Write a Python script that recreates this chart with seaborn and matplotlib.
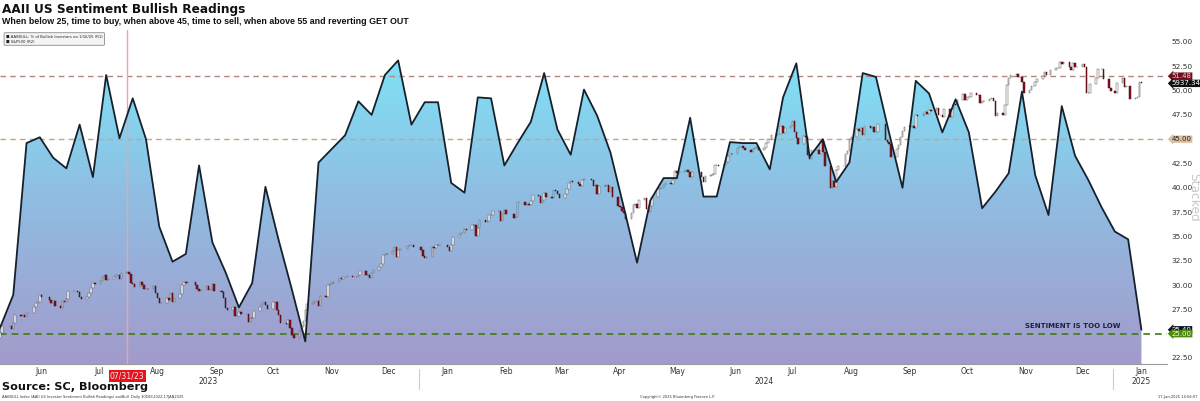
import numpy as np
import pandas as pd
import matplotlib
matplotlib.use("Agg")
import matplotlib.pyplot as plt
import matplotlib.dates as mdates
import matplotlib.transforms as mtransforms
from matplotlib.colors import LinearSegmentedColormap
from matplotlib.patches import PathPatch
import seaborn as sns

# AAII % bullish, weekly (Thursdays) from 2023-05-25 to 2025-01-16
aaii_start = "2023-05-25"
aaii_bull = [
    25.6, 29.0, 44.6, 45.2, 43.1, 42.0, 46.5, 41.1, 51.6, 45.1,
    49.2, 45.0, 36.0, 32.4, 33.2, 42.3, 34.4, 31.3, 27.7, 30.2,
    40.1, 34.6, 29.5, 24.2, 42.6, 44.0, 45.4, 48.9, 47.5, 51.6,
    53.1, 46.5, 48.8, 48.8, 40.5, 39.5, 49.3, 49.2, 42.3, 44.6,
    46.8, 51.8, 46.0, 43.4, 50.1, 47.4, 43.6, 38.0, 32.3, 38.7,
    41.0, 41.0, 47.2, 39.1, 39.1, 44.7, 44.6, 44.6, 41.9, 49.3,
    52.8, 43.2, 45.0, 40.6, 42.6, 51.8, 51.4, 45.6, 40.0, 51.0,
    49.7, 45.7, 49.1, 45.7, 37.9, 39.6, 41.5, 49.9, 41.3, 37.2,
    48.4, 43.3, 40.8, 38.0, 35.5, 34.7, 25.4,
]

# S&P 500 daily closes, one list per month
spx_prev_close = 4115.2
spx_close_by_month = {
    "2023-05": [4151, 4205, 4206, 4180],
    "2023-06": [4221, 4282, 4273, 4283, 4267, 4293, 4299, 4338, 4369, 4372, 4426,
                4410, 4389, 4365, 4381, 4348, 4328, 4378, 4376, 4396, 4450],
    "2023-07": [4455, 4446, 4411, 4399, 4409, 4439, 4472, 4510, 4505, 4522, 4555,
                4565, 4534, 4536, 4554, 4567, 4566, 4537, 4582, 4589],
    "2023-08": [4577, 4513, 4502, 4478, 4518, 4499, 4468, 4468, 4464, 4490, 4437,
                4404, 4370, 4370, 4400, 4388, 4436, 4376, 4406, 4433, 4497, 4514, 4508],
    "2023-09": [4516, 4497, 4465, 4451, 4457, 4487, 4462, 4467, 4505, 4450, 4453,
                4444, 4402, 4330, 4320, 4337, 4274, 4274, 4300, 4288],
    "2023-10": [4288, 4229, 4263, 4258, 4308, 4336, 4358, 4377, 4350, 4327, 4373,
                4373, 4315, 4278, 4224, 4217, 4248, 4186, 4137, 4117, 4166, 4194],
    "2023-11": [4237, 4318, 4358, 4365, 4378, 4383, 4347, 4415, 4411, 4496, 4502,
                4508, 4514, 4547, 4538, 4556, 4559, 4550, 4555, 4551, 4568],
    "2023-12": [4595, 4569, 4567, 4549, 4585, 4604, 4622, 4644, 4707, 4720, 4719,
                4741, 4768, 4699, 4746, 4755, 4775, 4781, 4783, 4770],
    "2024-01": [4743, 4705, 4689, 4697, 4764, 4757, 4783, 4780, 4784, 4766, 4739,
                4780, 4840, 4850, 4865, 4869, 4894, 4891, 4928, 4925, 4846],
    "2024-02": [4906, 4959, 4943, 4954, 4995, 4998, 5027, 5022, 4953, 5001, 5030,
                5006, 4976, 4982, 5087, 5089, 5070, 5078, 5070, 5096],
    "2024-03": [5137, 5131, 5079, 5105, 5157, 5124, 5117, 5175, 5165, 5150, 5117,
                5149, 5179, 5225, 5241, 5234, 5218, 5203, 5248, 5254],
    "2024-04": [5243, 5205, 5211, 5147, 5204, 5202, 5209, 5161, 5199, 5123, 5061,
                5051, 5022, 5011, 4967, 5010, 5070, 5072, 5048, 5100, 5116, 5036],
    "2024-05": [5018, 5064, 5128, 5181, 5187, 5188, 5214, 5223, 5221, 5247, 5308,
                5297, 5303, 5308, 5321, 5307, 5268, 5305, 5306, 5267, 5235, 5278],
    "2024-06": [5283, 5291, 5354, 5352, 5347, 5361, 5375, 5421, 5434, 5431, 5473,
                5487, 5473, 5464, 5448, 5469, 5478, 5482, 5460],
    "2024-07": [5475, 5509, 5537, 5567, 5572, 5577, 5633, 5585, 5615, 5631, 5667,
                5588, 5545, 5505, 5564, 5555, 5427, 5399, 5459, 5464, 5436, 5522],
    "2024-08": [5446, 5347, 5186, 5240, 5199, 5319, 5344, 5344, 5434, 5455, 5543,
                5554, 5608, 5597, 5620, 5571, 5635, 5617, 5626, 5592, 5592, 5648],
    "2024-09": [5529, 5520, 5503, 5408, 5471, 5496, 5554, 5596, 5626, 5634, 5634,
                5618, 5714, 5703, 5719, 5732, 5722, 5745, 5738, 5762],
    "2024-10": [5709, 5709, 5700, 5751, 5696, 5751, 5793, 5780, 5815, 5859, 5815,
                5843, 5841, 5865, 5853, 5851, 5797, 5809, 5808, 5823, 5833, 5814, 5705],
    "2024-11": [5729, 5712, 5782, 5929, 5973, 5996, 6001, 5984, 5985, 5949, 5871,
                5893, 5917, 5917, 5949, 5969, 5987, 6021, 5998, 6032],
    "2024-12": [6047, 6050, 6087, 6075, 6090, 6053, 6034, 6084, 6051, 6051, 6074,
                6051, 5872, 5867, 5931, 5975, 6040, 6037, 5970, 5907, 5882],
    "2025-01": [5869, 5942, 5975, 5909, 5918, 5827, 5836, 5842, 5950, 5937.34],
}
market_holidays = [
    "2023-05-29", "2023-06-19", "2023-07-04", "2023-09-04", "2023-11-23", "2023-12-25",
    "2024-01-01", "2024-01-15", "2024-02-19", "2024-03-29", "2024-05-27", "2024-06-19",
    "2024-07-04", "2024-09-02", "2024-11-28", "2024-12-25", "2025-01-01", "2025-01-09",
]

buy_level = 25.0
sell_level = 45.0
last_bull = 51.48
last_bull_low = 25.40
last_spx = 5937.34
marker_date = "2023-07-31"

# ---- data frames
aaii = pd.DataFrame({
    "date": pd.date_range(aaii_start, periods=len(aaii_bull), freq="7D"),
    "bull": aaii_bull,
})
spx_dates = pd.bdate_range("2023-05-25", "2025-01-16", freq="C", holidays=market_holidays)
closes = np.concatenate([np.array(v, dtype=float) for v in spx_close_by_month.values()])
spx = pd.DataFrame({"date": spx_dates, "close": closes})
spx["open"] = np.r_[spx_prev_close, closes[:-1]]

# ---- figure
sns.set_style("white")
plt.rcParams["font.family"] = ["DejaVu Sans"]

W, H = 1200, 401
fig = plt.figure(figsize=(12, 4.01), dpi=100)
ax = fig.add_axes([0.0, 1 - 364 / H, 1167 / W, (364 - 30) / H])
ylo, yhi = 21.88, 56.23
x_lo, x_hi = pd.Timestamp("2023-05-25"), pd.Timestamp("2025-01-29 12:00")

# gradient area under the AAII line
poly = ax.fill_between(aaii["date"], ylo, aaii["bull"], facecolor="none", edgecolor="none")
cmap = LinearSegmentedColormap.from_list("bull", ["#a29bcb", "#90bde2", "#7be9fa"])
grad = np.linspace(0, 1, 256).reshape(-1, 1)
im = ax.imshow(grad, cmap=cmap, aspect="auto", origin="lower",
               extent=[mdates.date2num(x_lo), mdates.date2num(x_hi), ylo, yhi], zorder=1)
clip = PathPatch(poly.get_paths()[0], transform=ax.transData, facecolor="none", edgecolor="none")
ax.add_patch(clip)
im.set_clip_path(clip)

ax.set_xlim(x_lo, x_hi)
ax.set_ylim(ylo, yhi)

# reference lines
ax.axhline(last_bull, color="#b58480", lw=1.0, ls=(0, (4, 3)), zorder=3)
ax.axhline(sell_level, color="#c9a482", lw=1.0, ls=(0, (4, 3)), zorder=3)
ax.axhline(buy_level, color="#3f7d0c", lw=1.2, ls=(0, (4, 3)), zorder=3)
ax.axvline(pd.Timestamp(marker_date), color="#f0a2a6", lw=1.0, zorder=3)

ax.text(pd.Timestamp("2025-01-05"), 25.5, "SENTIMENT IS TOO LOW", ha="right", va="bottom",
        fontsize=5.0, fontweight="bold", color="#1b2340", zorder=5)

# S&P 500 candles on second scale
ax2 = ax.twinx()
ax2.set_ylim(3931, 6319)
up = spx["close"] >= spx["open"]
dn = ~up
ax2.bar(spx["date"][up], (spx["close"] - spx["open"])[up], bottom=spx["open"][up],
        width=0.8, color="white", edgecolor="#5a5a5a", linewidth=0.35, zorder=3)
ax2.bar(spx["date"][dn], (spx["open"] - spx["close"])[dn], bottom=spx["close"][dn],
        width=0.8, color="#8e1020", edgecolor="#3a0a0a", linewidth=0.35, zorder=3)

# AAII line on top
ax3 = ax.twinx()
ax3.set_ylim(ylo, yhi)
sns.lineplot(data=aaii, x="date", y="bull", ax=ax3, color="#15202c", lw=1.3, zorder=4)
ax3.set_xlim(x_lo, x_hi)

for a in (ax2, ax3):
    a.set_yticks([])
    a.set_ylabel("")
    a.set_xlabel("")
    for s in a.spines.values():
        s.set_visible(False)

# axes styling
for name, s in ax.spines.items():
    s.set_visible(name == "bottom")
ax.spines["bottom"].set_color("#9a9a9a")
ax.spines["bottom"].set_linewidth(0.8)

ax.yaxis.tick_right()
ax.set_yticks(np.arange(22.5, 55.01, 2.5))
ax.yaxis.set_major_formatter(plt.FormatStrFormatter("%.2f"))
ax.tick_params(axis="y", length=0, labelsize=5.4, pad=3.5, colors="#333333")

ax.xaxis.set_major_locator(mdates.MonthLocator(bymonthday=16))
ax.xaxis.set_major_formatter(mdates.DateFormatter("%b"))
ax.xaxis.set_minor_locator(mdates.MonthLocator())
ax.tick_params(axis="x", which="major", length=0, labelsize=5.5, pad=2, colors="#333333")
ax.tick_params(axis="x", which="minor", length=2.5, width=0.6, color="#999999")
ax.set_xlabel("")
ax.set_ylabel("")

# year labels and separators
bx = mtransforms.blended_transform_factory(ax.transData, fig.transFigure)
for d, lab in [("2023-09-12", "2023"), ("2024-07-01", "2024"), ("2025-01-16", "2025")]:
    ax.text(pd.Timestamp(d), 1 - 381 / H, lab, transform=bx, ha="center", va="center",
            fontsize=5.5, color="#333333")
for d in ["2024-01-01", "2025-01-01"]:
    ax.plot([pd.Timestamp(d)] * 2, [1 - 369 / H, 1 - 389 / H], transform=bx,
            color="#cccccc", lw=0.8, clip_on=False)

# date marker tag
ax.text(pd.Timestamp(marker_date), 1 - 376 / H, "07/31/23", transform=bx, ha="center",
        va="center", fontsize=5.6, color="#ffe9e9",
        bbox=dict(boxstyle="square,pad=0.15", fc="#e3141c", ec="none"))

# right-side value tags
def tag(a, y, text, fc, tc):
    tr = mtransforms.blended_transform_factory(ax.transAxes, a.transData)
    a.text(1.004, y, text, transform=tr, ha="left", va="center", fontsize=5.0, color=tc,
           clip_on=False, zorder=10,
           bbox=dict(boxstyle="larrow,pad=0.1", fc=fc, ec="none"))

tag(ax, last_bull, f"{last_bull:.2f}", "#6e0f1c", "#f3d6d6")
tag(ax2, last_spx, f"{last_spx:.2f}", "#111111", "#ffffff")
tag(ax, sell_level, f"{sell_level:.2f}", "#dcbfa2", "#222222")
tag(ax, last_bull_low, f"{last_bull_low:.2f}", "#101828", "#ffffff")
tag(ax, buy_level, f"{buy_level:.2f}", "#4d8a0e", "#f2fbd8")

# titles and texts
fig.text(2 / W, 1 - 9 / H, "AAII US Sentiment Bullish Readings", fontsize=8.7,
         fontweight="bold", va="center", ha="left", color="#111111")
fig.text(2 / W, 1 - 21.5 / H,
         "When below 25, time to buy, when above 45, time to sell, when above 55 and reverting GET OUT",
         fontsize=6.4, fontweight="bold", family=["Liberation Sans", "DejaVu Sans"],
         va="center", ha="left", color="#111111")
fig.text(6 / W, 1 - 39 / H,
         "\u25a0 AAIIBULL: % of Bullish Investors on 1/16/25 (R1)\n\u25a0 S&P500 (R2)",
         fontsize=2.7, va="center", ha="left", color="#222222", linespacing=1.3,
         bbox=dict(boxstyle="round,pad=0.5,rounding_size=0.3", fc="#f4f4f4", ec="#9a9a9a", lw=0.7))
fig.text(1194 / W, 1 - 197 / H, "Stacked", rotation=270, fontsize=8.8, color="#c8c8c8",
         ha="center", va="center")
fig.text(2 / W, 1 - 387 / H, "Source: SC, Bloomberg", fontsize=8.1, fontweight="bold",
         va="center", ha="left", color="#111111")
fig.text(2 / W, 1 - 397 / H,
         "AAIIBULL Index (AAII US Investor Sentiment Bullish Readings) aaiiBull  Daily 30DEC2022-17JAN2025",
         fontsize=2.6, va="center", ha="left", color="#333333")
fig.text(640 / W, 1 - 397 / H, "Copyright\u00a9 2025 Bloomberg Finance L.P.", fontsize=2.6,
         va="center", ha="left", color="#333333")
fig.text(1198 / W, 1 - 397 / H, "17-Jan-2025 14:56:07", fontsize=2.6, va="center",
         ha="right", color="#333333")

fig.savefig("out.png", dpi=100)
